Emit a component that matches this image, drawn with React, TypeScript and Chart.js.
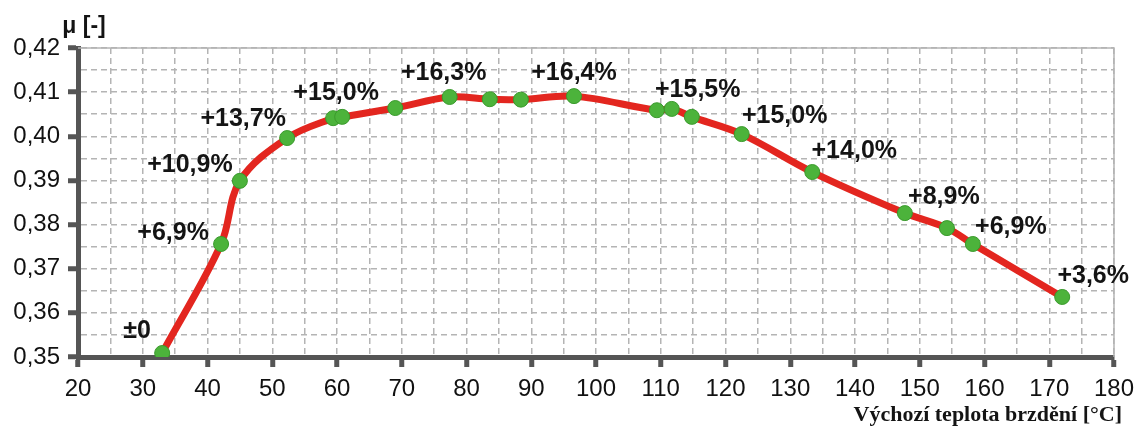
import React, { useEffect, useRef } from "react";
import Chart from "chart.js/auto";

const temperatures = [33.0, 42.1, 45.0, 52.3, 59.4, 60.8, 69.0, 77.4, 83.6, 88.4, 96.6, 109.4, 111.7, 114.8, 122.5, 133.4, 147.7, 154.2, 158.2, 172.0];
const mu = [0.3509, 0.3756, 0.3899, 0.3996, 0.4041, 0.4044, 0.4064, 0.4089, 0.4084, 0.4083, 0.4091, 0.4059, 0.4062, 0.4044, 0.4005, 0.3919, 0.3826, 0.3792, 0.3756, 0.3636];
const pointLabels: (string | null)[] = ["±0", "+6,9%", "+10,9%", "+13,7%", "+15,0%", null, null, "+16,3%", null, null, "+16,4%", null, "+15,5%", null, "+15,0%", "+14,0%", "+8,9%", null, "+6,9%", "+3,6%"];
const xTitle = "Výchozí teplota brzdění [°C]";
const yTitle = "μ [-]";

// label placement relative to its point (pixels)
const labelOffsets: ([number, number] | null)[] = [[-25, -22], [-48, -11], [-50, -16], [-44, -19], [3, -25], null, null, [-6, -24], null, null, [0, -23], null, [26, -19], null, [43, -18], [42, -21], [39, -16], null, [38, -17], [31, -21]];

const isMajorX = (v: number) => Math.round(v) % 10 === 0;
const isMajorY = (v: number) => Math.round(v * 1000) % 10 === 0;

export default function App() {
  const ref = useRef<HTMLCanvasElement | null>(null);
  useEffect(() => {
    const canvas = ref.current!;
    const labelPlugin = {
      id: "labelsAndFrame",
      beforeDatasetsDraw(chart: any) {
        const { ctx, chartArea } = chart;
        ctx.save();
        ctx.strokeStyle = "#b4b4b4";
        ctx.lineWidth = 1.5;
        ctx.setLineDash([]);
        ctx.beginPath();
        ctx.moveTo(chartArea.left, chartArea.top);
        ctx.lineTo(chartArea.right, chartArea.top);
        ctx.lineTo(chartArea.right, chartArea.bottom);
        ctx.stroke();
        ctx.restore();
      },
      afterDatasetsDraw(chart: any) {
        const { ctx } = chart;
        const meta = chart.getDatasetMeta(0);
        ctx.save();
        ctx.fillStyle = "#141414";
        ctx.font = "bold 25px 'Liberation Sans', Arial, sans-serif";
        ctx.textAlign = "center";
        ctx.textBaseline = "middle";
        pointLabels.forEach((t, i) => {
          const off = labelOffsets[i];
          if (!t || !off) return;
          const p = meta.data[i];
          ctx.fillText(t, p.x + off[0], p.y + off[1]);
        });
        ctx.font = "bold 23px 'Liberation Sans', Arial, sans-serif";
        ctx.fillText(yTitle, 84, 27);
        ctx.font = "bold 22px 'Liberation Serif', 'Times New Roman', serif";
        ctx.textAlign = "right";
        ctx.fillText(xTitle, 1122, 415);
        ctx.restore();
      },
    };
    const chart = new Chart(canvas, {
      type: "line",
      data: {
        datasets: [
          {
            data: temperatures.map((t, i) => ({ x: t, y: mu[i] })),
            borderColor: "#e3261f",
            borderWidth: 7,
            tension: 0.35,
            pointRadius: 7.5,
            pointBackgroundColor: "#4cb33b",
            pointBorderColor: "#3a9a2c",
            pointBorderWidth: 1,
          },
        ],
      },
      options: {
        animation: false,
        responsive: false,
        devicePixelRatio: 1,
        layout: { padding: { left: 0, top: 48, right: 23, bottom: 0 } },
        plugins: { legend: { display: false }, tooltip: { enabled: false } },
        scales: {
          x: {
            type: "linear",
            min: 20,
            max: 180,
            afterFit: (s: any) => { s.height = 73; s.paddingLeft = 0; s.paddingRight = 0; },
            ticks: {
              stepSize: 5,
              autoSkip: false,
              maxRotation: 0,
              padding: 8,
              color: "#111",
              font: { size: 24, family: "'Liberation Sans', Arial, sans-serif" },
              callback: (v: any) => (isMajorX(Number(v)) ? String(v) : ""),
            },
            grid: {
              color: "#b4b4b4",
              lineWidth: 1.5,
              tickLength: 10,
              tickWidth: 5,
              tickColor: (c: any) => (c.tick && isMajorX(c.tick.value) ? "#555" : "rgba(0,0,0,0)"),
            },
            border: { color: "#555", width: 5, dash: [6, 4] },
          },
          y: {
            min: 0.35,
            max: 0.42,
            afterFit: (s: any) => { s.width = 78; s.paddingTop = 0; s.paddingBottom = 0; },
            ticks: {
              stepSize: 0.005,
              autoSkip: false,
              padding: 8,
              color: "#111",
              font: { size: 24, family: "'Liberation Sans', Arial, sans-serif" },
              callback: (v: any) => (isMajorY(Number(v)) ? Number(v).toFixed(2).replace(".", ",") : ""),
            },
            grid: {
              color: "#b4b4b4",
              lineWidth: 1.5,
              tickLength: 10,
              tickWidth: 5,
              tickColor: (c: any) => (c.tick && isMajorY(c.tick.value) ? "#555" : "rgba(0,0,0,0)"),
            },
            border: { color: "#555", width: 5, dash: [6, 4] },
          },
        },
      },
      plugins: [labelPlugin],
    } as any);
    return () => chart.destroy();
  }, []);
  return (
    <div style={{ position: "fixed", left: 0, top: 0, width: 1137, height: 430, background: "#fff" }}>
      <canvas ref={ref} width={1137} height={430} style={{ display: "block" }} />
    </div>
  );
}
